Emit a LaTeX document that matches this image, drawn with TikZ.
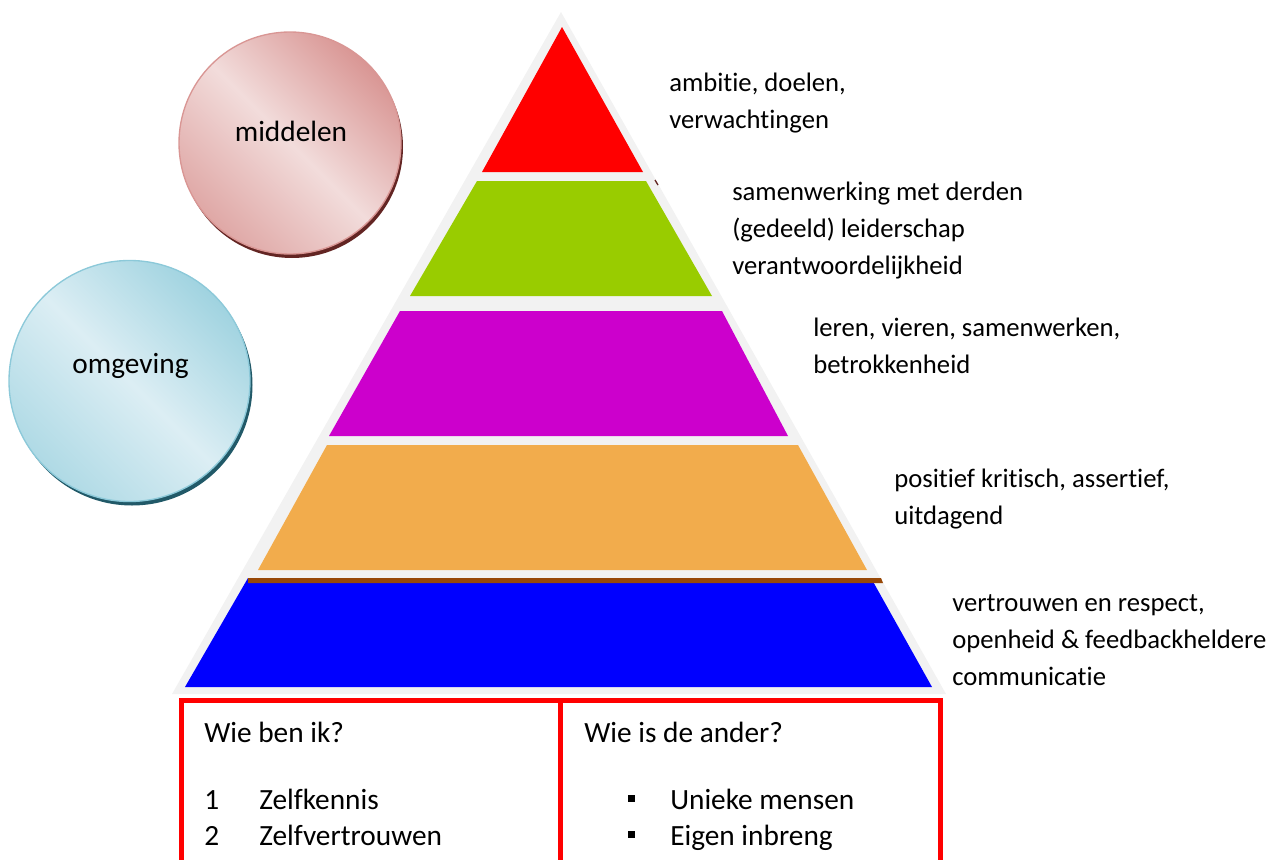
\documentclass[tikz,border=0pt]{standalone}
\usepackage{fontspec}
\setmainfont[Ligatures={NoCommon,NoContextual}]{Carlito}
\usetikzlibrary{positioning}
\definecolor{pyrgrey}{HTML}{F2F2F2}
\definecolor{pyrred}{HTML}{FF0000}
\definecolor{pyrgreen}{HTML}{99CC00}
\definecolor{pyrmagenta}{HTML}{CC00CC}
\definecolor{pyrorange}{HTML}{F2AC4C}
\definecolor{pyrblue}{HTML}{0000FF}
\definecolor{pyrbrown}{HTML}{984807}
\definecolor{mlight}{HTML}{F2DCDB}
\definecolor{mdark}{HTML}{D99694}
\definecolor{mshadow}{HTML}{632523}
\definecolor{olight}{HTML}{DCEEF4}
\definecolor{odark}{HTML}{A0D3E0}
\definecolor{oline}{HTML}{8CC9D9}
\definecolor{oshadow}{HTML}{215968}

\begin{document}
\begin{tikzpicture}[x=0.75pt, y=-0.75pt,
  every node/.style={inner sep=0pt},
  lbl/.style={anchor=base west, align=left, font=\fontsize{20}{27.75}\selectfont},
  boxtxt/.style={anchor=base west, font=\fontsize{22}{27}\selectfont},
  bulletsq/.style={fill=black, minimum size=5.25pt},
  redbox/.style={draw=pyrred, line width=3.75pt}]
\useasboundingbox (0,0) rectangle (1283,860);
\clip (0,0) rectangle (1283,860);
% circles
\fill[mshadow] (292,147) circle (111);
\shade[top color=mdark, bottom color=mdark!75!mlight, middle color=mlight, shading angle=-45, draw=mdark, line width=1pt] (290,143) circle (111);
\node[font=\fontsize{22}{27}\selectfont, anchor=base] (middelen) at (291,141) {middelen};
\fill[oshadow] (132,385) circle (120.5);
\shade[top color=odark, bottom color=odark!75!olight, middle color=olight, shading angle=-45, draw=oline, line width=1pt] (129.5,381) circle (120.5);
\node[font=\fontsize{22}{27}\selectfont, anchor=base] (omgeving) at (130.5,373) {omgeving};
% pyramid
\fill[pyrgrey] (561,12) -- (946,694) -- (172,694) -- cycle;
\fill[pyrred] (562,27) -- (643,172) -- (482,172) -- cycle;
\draw[mshadow, line width=1pt] (655,180) -- (658,185);
\fill[pyrgreen] (477,181) -- (646,181) -- (712,296) -- (410,296) -- cycle;
\fill[pyrmagenta] (400,311) -- (722,311) -- (788,436) -- (329,436) -- cycle;
\fill[pyrorange] (327,445) -- (798,445) -- (867,570) -- (258,570) -- cycle;
\fill[pyrblue] (248,578) -- (871,578) -- (932,687) -- (185,687) -- cycle;
\fill[pyrbrown] (248,578) -- (881,578) -- (883,583) -- (248,583) -- cycle;
% labels (base = last line)
\node[lbl] (ambitie) at (669,128) {ambitie, doelen,\\verwachtingen};
\node[lbl] (samenwerking) at (732,274) {samenwerking met derden\\(gedeeld) leiderschap\\verantwoordelijkheid};
\node[lbl] (leren) at (813,373) {leren, vieren, samenwerken,\\betrokkenheid};
\node[lbl] (positief) at (894,524) {positief kritisch, assertief,\\uitdagend};
\node[lbl] (vertrouwen) at (952,685) {vertrouwen en respect,\\openheid \& feedbackheldere\\communicatie};
% boxes
\draw[redbox] (181,700) rectangle (560,880);
\draw[redbox] (560,700) rectangle (940,880);
\node[boxtxt] (wiebenik) at (204,742) {Wie ben ik?};
\node[boxtxt] (nr1) at (204,809) {1}; \node[boxtxt] (zelfkennis) at (259,809) {Zelfkennis};
\node[boxtxt] (nr2) at (204,845) {2}; \node[boxtxt] (zelfvertrouwen) at (259,845) {Zelfvertrouwen};
\node[boxtxt] (wieander) at (584,742) {Wie is de ander?};
\node[bulletsq] (bul1) at (631,798) {}; \node[boxtxt] (uniek) at (670,809) {Unieke mensen};
\node[bulletsq] (bul2) at (631,834) {}; \node[boxtxt] (inbreng) at (670,845) {Eigen inbreng};
\end{tikzpicture}
\end{document}
